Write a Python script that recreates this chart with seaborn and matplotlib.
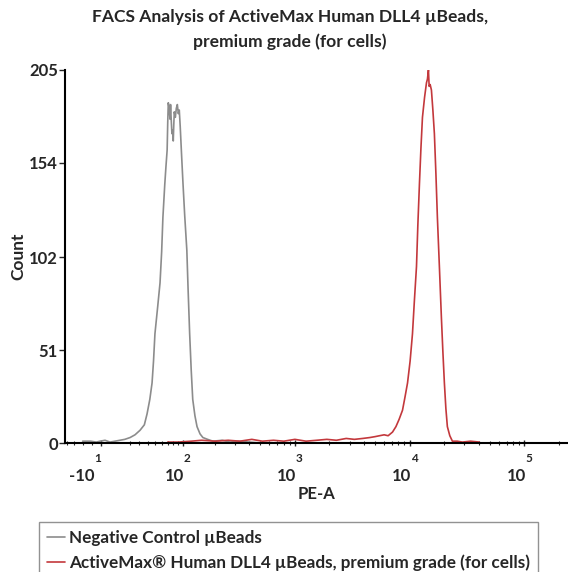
import numpy as np
import pandas as pd
import matplotlib
matplotlib.use('Agg')
import matplotlib.pyplot as plt
import matplotlib.ticker as mticker
import seaborn as sns

gray_pe = [-30, -21, -15, -11, -6, -1, 4, 9, 14, 19.6, 25, 30.8, 36, 39.4, 43, 46, 48, 50,
           54, 57.5, 60, 62, 65, 67, 69, 70, 71, 72.5, 74, 75, 76, 77.5, 79, 80, 81, 82,
           84, 86, 88, 90, 92, 94, 97, 100, 104, 109, 112, 116, 120, 124, 130, 136, 145,
           154, 170, 190, 230, 270, 320, 400, 500]
gray_ct = [1, 1, 0.5, 1, 1.5, 0.5, 1, 1.5, 2, 3, 4.5, 7, 10, 16, 24, 33, 45, 60,
           75, 88, 105, 124, 142, 152, 161, 176, 187, 184, 178, 186, 179, 170, 172, 166, 175, 182,
           179, 184, 186, 181, 183, 174, 158, 143, 125, 106, 85, 60, 40, 24, 15, 9, 5,
           3, 2, 1, 1.5, 0.5, 1, 0.5, 0]

red_pe = [70, 90, 120, 150, 200, 260, 330, 420, 520, 650, 800, 1000, 1250, 1550, 1900,
          2300, 2800, 3300, 3900, 4500, 5000, 5470, 6000, 6500, 7095, 7600, 8100, 8670,
          9100, 9590, 10100, 10590, 11000, 11480, 11800, 12190, 12550, 12940, 13500,
          14030, 14300, 14590, 14800, 15100, 15490, 15950, 16440, 16950, 17460, 18200,
          18920, 19500, 20090, 20700, 21330, 22400, 23600, 26000, 28830, 34000, 40550]
red_ct = [0.5, 0.5, 1, 1.5, 1, 1.5, 1, 2, 1, 1.5, 1, 2, 1, 1.5, 2,
          1.5, 2.5, 2, 2.5, 3, 3.5, 4, 4.5, 4, 6, 9, 13, 18,
          25, 33, 45, 60, 78, 97, 120, 143, 162, 179, 190,
          198, 200, 205, 196, 197, 194, 183, 170, 148, 124, 96,
          69, 50, 33, 19, 9, 4, 1, 1, 0.5, 1, 0.5]

x_ticks = [-10, 100, 1000, 10000, 100000]
x_tick_bases = ['-10', '10', '10', '10', '10']
x_tick_exps = ['1', '2', '3', '4', '5']
y_ticks = [0, 51, 102, 154, 205]

series_names = ['Negative Control µBeads',
                'ActiveMax® Human DLL4 µBeads, premium grade (for cells)']

df_gray = pd.DataFrame({'PE-A': gray_pe, 'Count': gray_ct})
df_red = pd.DataFrame({'PE-A': red_pe, 'Count': red_ct})

# --- Estilo ---
sns.set_style("white")
plt.rcParams['font.family'] = ['Lato', 'DejaVu Sans']
plt.rcParams['font.weight'] = 'bold'

COFACTOR = 50.0
PX = 72.0 / 100.0  # puntos por pixel


def fwd(x):
    return np.arcsinh(np.asarray(x, dtype=float) / COFACTOR) / np.log(10)


def inv(y):
    return COFACTOR * np.sinh(np.asarray(y, dtype=float) * np.log(10))


fig = plt.figure(figsize=(5.68, 5.72), dpi=100)
ax = fig.add_axes([65 / 568, 1 - 443 / 572, 1 - 65 / 568, (443 - 70) / 572])

ax.set_xscale('function', functions=(fwd, inv))

sns.lineplot(data=df_gray, x='PE-A', y='Count', color='#8c8c8c', lw=1.2, ax=ax,
             label=series_names[0], sort=False)
sns.lineplot(data=df_red, x='PE-A', y='Count', color='#c3383c', lw=1.2, ax=ax,
             label=series_names[1], sort=False)

ax.set_xlim(-53, 240000)
ax.set_ylim(0, 205)

ax.xaxis.set_major_locator(mticker.FixedLocator(x_ticks))
ax.xaxis.set_major_formatter(mticker.NullFormatter())
minor = [-50, -40, -30, -20, 20, 30, 40, 50, 60, 70, 80, 90]
for dec in [100, 1000, 10000]:
    minor += [k * dec for k in range(2, 10)]
minor += [200000]
ax.xaxis.set_minor_locator(mticker.FixedLocator(minor))
ax.xaxis.set_minor_formatter(mticker.NullFormatter())
ax.set_yticks(y_ticks)
ax.set_yticklabels([str(v) for v in y_ticks])

# etiquetas tipo FlowJo: base + exponente separado
for val, base, ex in zip(x_ticks, x_tick_bases, x_tick_exps):
    ex_left = -7 if val < 0 else 1
    ax.annotate(ex, xy=(val, 0), xycoords=('data', 'axes fraction'),
                xytext=(ex_left * PX, -15 * PX), textcoords='offset points',
                ha='left', va='center', fontsize=8.5, fontweight='bold')
    ax.annotate(base, xy=(val, 0), xycoords=('data', 'axes fraction'),
                xytext=((ex_left + 0.5) * PX, -33 * PX), textcoords='offset points',
                ha='right', va='center', fontsize=12, fontweight='bold')

for s in ['top', 'right']:
    ax.spines[s].set_visible(False)
for s in ['left', 'bottom']:
    ax.spines[s].set_color('black')
    ax.spines[s].set_linewidth(1.5)

ax.tick_params(axis='x', which='major', direction='inout', length=5, width=1, bottom=True)
ax.tick_params(axis='x', which='minor', direction='inout', length=3, width=0.8, bottom=True)
ax.tick_params(axis='y', which='major', direction='out', length=4, width=1,
               labelsize=12, pad=1, left=True)

ax.set_xlabel('PE-A', fontsize=12, fontweight='bold', labelpad=25)
ax.set_ylabel('Count', fontsize=12.5, fontweight='bold', labelpad=2)

fig.suptitle('FACS Analysis of ActiveMax Human DLL4 µBeads,\npremium grade (for cells)',
             x=290 / 568, y=1 - 9 / 572, fontsize=12.6, fontweight='bold', linespacing=1.6)

handles, labels = ax.get_legend_handles_labels()
ax.get_legend().remove()
leg = fig.legend(handles, labels, loc='upper left', bbox_to_anchor=(39 / 568, 1 - 522 / 572),
                 frameon=True, fancybox=False, edgecolor='#777777', fontsize=12.3,
                 handlelength=1.1, handletextpad=0.2, borderpad=0.45, labelspacing=0.5,
                 borderaxespad=0)
leg.get_frame().set_linewidth(1.0)
for t in leg.get_texts():
    t.set_fontweight('bold')

plt.savefig('out.png', dpi=100)
plt.close()
